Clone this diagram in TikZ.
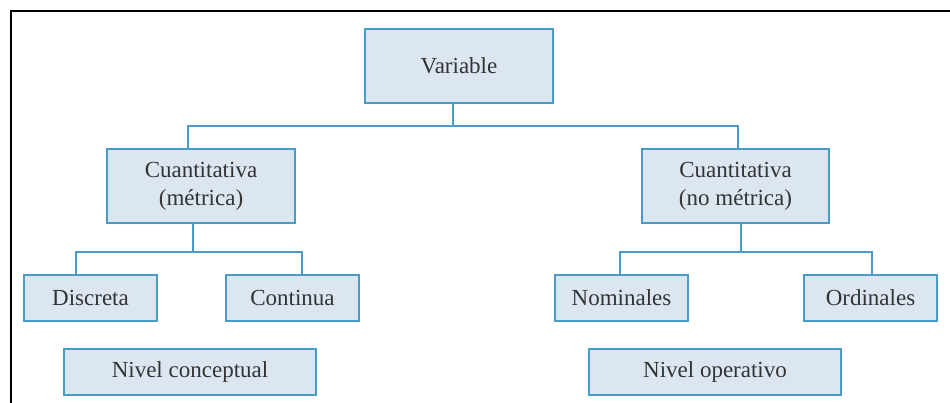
\documentclass[tikz,border=0pt]{standalone}
\usepackage{fontspec}
\setmainfont{Liberation Serif}
\definecolor{boxfill}{HTML}{DCE6F1}
\definecolor{boxline}{HTML}{4A9BC7}
\definecolor{txt}{HTML}{333333}
\begin{document}
\begin{tikzpicture}[x=1pt,y=-1pt,
  box/.style={draw=boxline,fill=boxfill,line width=1.5pt,text=txt,
    font=\fontsize{23}{28}\selectfont,align=center,inner sep=0pt},
  conn/.style={draw=boxline,line width=1.5pt}]
\useasboundingbox (0,0) rectangle (950,403);
\draw[line width=2pt] (11,403) -- (11,11.5) -- (950,11.5);
\node[box,minimum width=188pt,minimum height=74pt] (var) at (459,66) {Variable};
\node[box,minimum width=188pt,minimum height=74pt] (cm) at (201,186) {Cuantitativa\\(métrica)};
\node[box,minimum width=187pt,minimum height=74pt] (cnm) at (735.5,186) {Cuantitativa\\(no métrica)};
\node[box,minimum width=133pt,minimum height=46pt] (disc) at (90.5,298) {Discreta};
\node[box,minimum width=133pt,minimum height=46pt] (cont) at (292.5,298) {Continua};
\node[box,minimum width=133pt,minimum height=46pt] (nom) at (621.5,298) {Nominales};
\node[box,minimum width=133pt,minimum height=46pt] (ord) at (870.5,298) {Ordinales};
\node[box,minimum width=252pt,minimum height=46pt] (nc) at (190,372) {Nivel conceptual};
\node[box,minimum width=252pt,minimum height=46pt] (no) at (715,372) {Nivel operativo};
\coordinate (j0) at (453,126);
\coordinate (j1) at (193,252);
\coordinate (j2) at (741,252);
\draw[conn] (var.south -| j0) -- (j0);
\draw[conn] (cm.north -| 188,0) |- (j0) -| (cnm.north -| 738,0);
\draw[conn] (cm.south -| j1) -- (j1);
\draw[conn] (disc.north -| 76,0) |- (j1) -| (cont.north -| 302,0);
\draw[conn] (cnm.south -| j2) -- (j2);
\draw[conn] (nom.north -| 620,0) |- (j2) -| (ord.north -| 872,0);
\end{tikzpicture}
\end{document}
